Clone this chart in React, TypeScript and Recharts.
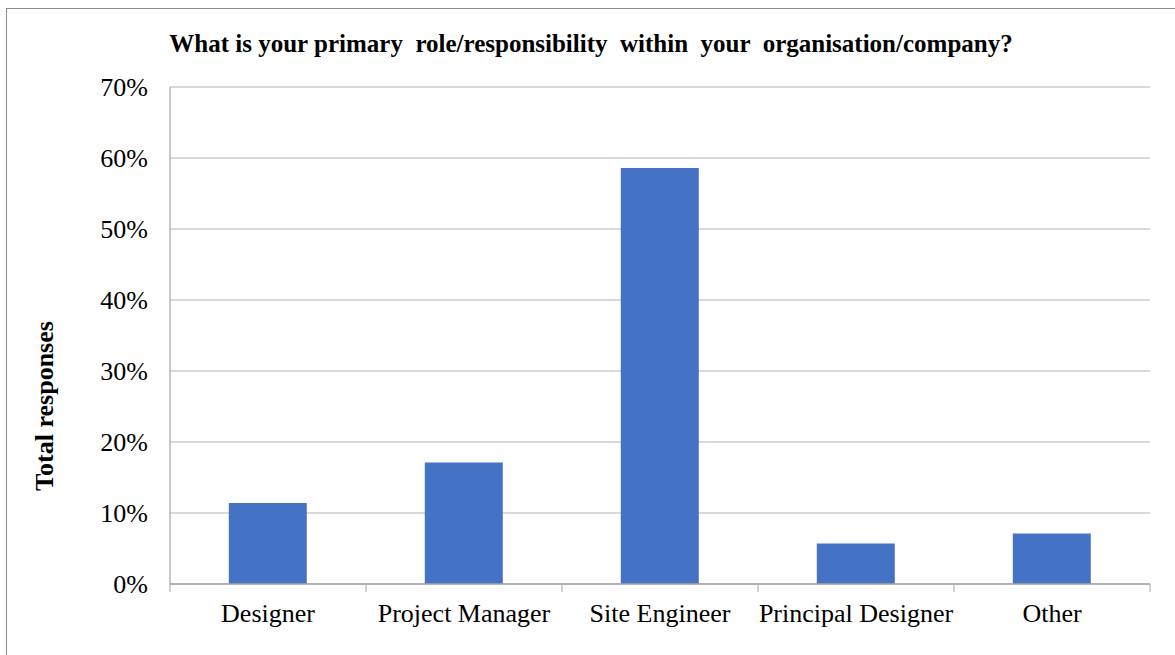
import React from 'react';
import { BarChart, Bar, XAxis, YAxis, CartesianGrid, Label } from 'recharts';

const roles = ['Designer', 'Project Manager', 'Site Engineer', 'Principal Designer', 'Other'];
const shares = [0.114, 0.171, 0.586, 0.057, 0.071];
const yTicks = [0, 0.1, 0.2, 0.3, 0.4, 0.5, 0.6, 0.7];

const data = roles.map((role, i) => ({ role, share: shares[i] }));

const W = 1175;
const H = 655;
const margin = { top: 87, right: 25, bottom: 11, left: 100 };
const yAxisWidth = 70;
const plotWidth = W - margin.left - margin.right - yAxisWidth;
const band = plotWidth / roles.length;

const FONT = '"Liberation Serif", "Times New Roman", serif';
const AXIS = '#a6a6a6';

const RoleTick = (props: any) => {
  const { x, y, payload, index } = props;
  const half = band / 2;
  return (
    <g>
      <line x1={x - half} x2={x - half} y1={y} y2={y + 8} stroke={AXIS} strokeWidth={1} />
      {index === roles.length - 1 && (
        <line x1={x + half} x2={x + half} y1={y} y2={y + 8} stroke={AXIS} strokeWidth={1} />
      )}
      <text x={x} y={y + 38} textAnchor="middle" fill="#000" fontSize={26} fontFamily={FONT}>
        {payload.value}
      </text>
    </g>
  );
};

export default function App() {
  return (
    <div style={{ position: 'absolute', left: 0, top: 0, width: W, height: H, background: '#fff' }}>
      <div style={{ position: 'absolute', left: 6, top: 8, right: 0, bottom: 0, borderLeft: '1.5px solid #8c8c8c', borderTop: '1.5px solid #8c8c8c' }} />
      <BarChart width={W} height={H} data={data} margin={margin} barCategoryGap="30%" style={{ position: 'absolute', left: 0, top: 0 }}>
        <text
          x={591}
          y={52}
          textAnchor="middle"
          fontFamily={FONT}
          fontWeight="bold"
          fontSize={25}
          fill="#000"
          style={{ whiteSpace: 'pre' }}
        >
          What is your primary  role/responsibility  within  your  organisation/company?
        </text>
        <CartesianGrid horizontal vertical={false} stroke="#b3b3b3" strokeWidth={1.2} />
        <XAxis
          dataKey="role"
          tickLine={false}
          tickSize={0}
          tickMargin={0}
          height={60}
          axisLine={{ stroke: AXIS, strokeWidth: 1.5 }}
          tick={<RoleTick />}
          interval={0}
        />
        <YAxis
          width={yAxisWidth}
          domain={[0, 0.7]}
          ticks={yTicks}
          tickFormatter={(v: number) => `${Math.round(v * 100)}%`}
          tickLine={false}
          tickSize={0}
          tickMargin={22}
          axisLine={{ stroke: AXIS, strokeWidth: 1.2 }}
          tick={{ fill: '#000', fontSize: 26, fontFamily: FONT }}
        >
          <Label
            value="Total responses"
            angle={-90}
            position="center"
            content={() => (
              <text
                x={44}
                y={406}
                transform="rotate(-90 44 406)"
                textAnchor="middle"
                dominantBaseline="central"
                fontFamily={FONT}
                fontWeight="bold"
                fontSize={26}
                fill="#000"
              >
                Total responses
              </text>
            )}
          />
        </YAxis>
        <Bar dataKey="share" fill="#4472C4" isAnimationActive={false} />
      </BarChart>
    </div>
  );
}
